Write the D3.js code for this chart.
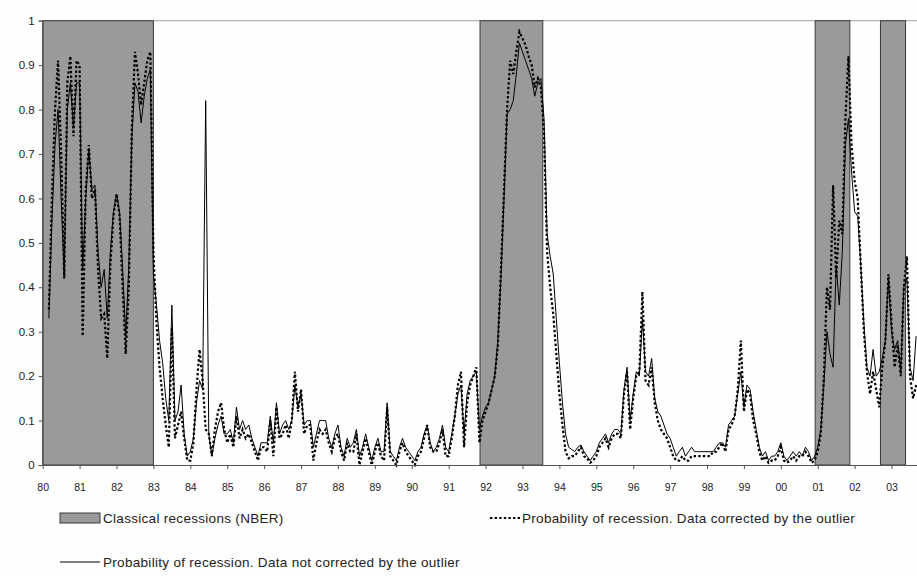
<!DOCTYPE html>
<html><head><meta charset="utf-8">
<script src="https://cdn.jsdelivr.net/npm/d3@7"></script>
<style>
body{margin:0;background:#fff;}
svg{display:block;font-family:"Liberation Sans",Arial,sans-serif;}
</style></head>
<body>
<svg id="c" width="917" height="576"></svg>
<script>
// First month of data: March 1980 (months counted from Jan 1980)
const startMonth = 2;
// Probability of recession, data NOT corrected by the outlier (solid)
const notCorrected = [
 .33,.55,.72,.80,.60,.43,.80,.86,.76,.86,
 .86,.44,.60,.71,.62,.63,.48,.40,.44,.33,.48,.57,
 .61,.57,.44,.29,.45,.74,.86,.84,.77,.83,.87,.89,
 .43,.36,.28,.23,.15,.10,.36,.10,.12,.18,.07,.02,
 .03,.06,.14,.19,.17,.82,.07,.02,.06,.09,.11,.07,
 .07,.08,.05,.13,.08,.10,.08,.09,.06,.04,.02,.05,
 .05,.05,.11,.05,.14,.07,.09,.10,.08,.10,.18,.13,
 .16,.09,.10,.10,.04,.07,.10,.10,.10,.06,.04,.07,
 .09,.04,.02,.06,.04,.05,.08,.02,.04,.07,.04,.01,
 .04,.06,.03,.03,.14,.03,.02,.01,.04,.06,.04,.03,
 .02,.01,.03,.04,.07,.09,.05,.03,.04,.06,.09,.04,
 .03,.07,.11,.16,.18,.07,.16,.19,.20,.21,.08,.11,
 .13,.14,.17,.20,.28,.42,.60,.79,.80,.82,.88,.95,
 .93,.91,.89,.87,.83,.86,.87,.78,.52,.47,.43,.33,
 .23,.14,.07,.04,.035,.03,.04,.045,.03,.02,.01,.02,
 .03,.05,.06,.07,.05,.07,.08,.08,.07,.17,.22,.10,
 .16,.21,.20,.33,.21,.20,.24,.15,.12,.11,.09,.07,
 .06,.04,.02,.03,.04,.02,.03,.04,.03,.03,.03,.03,
 .03,.03,.03,.04,.05,.05,.04,.09,.10,.11,.16,.21,
 .13,.18,.17,.12,.08,.04,.02,.03,.01,.02,.02,.03,
 .05,.02,.01,.02,.03,.02,.03,.02,.04,.03,.01,.02,
 .04,.08,.18,.30,.25,.22,.45,.36,.48,.72,.78,.66,
 .57,.56,.45,.32,.22,.20,.26,.20,.21,.24,.28,.42,
 .30,.26,.28,.21,.40,.42,.22,.19,.29
];
// Probability of recession, data corrected by the outlier (dotted)
const corrected = [
 .35,.60,.80,.91,.70,.42,.86,.92,.74,.91,
 .90,.29,.62,.72,.60,.62,.44,.33,.34,.24,.45,.56,
 .61,.56,.40,.25,.40,.76,.93,.88,.81,.86,.91,.93,
 .48,.32,.22,.15,.09,.04,.31,.06,.09,.12,.06,.01,
 .01,.05,.17,.26,.19,.08,.07,.02,.08,.12,.14,.08,
 .05,.07,.04,.11,.06,.08,.06,.07,.05,.03,.01,.04,
 .04,.03,.10,.02,.13,.06,.07,.09,.06,.10,.21,.12,
 .17,.07,.09,.09,.01,.05,.08,.07,.08,.05,.03,.06,
 .07,.03,.01,.05,.03,.03,.07,.00,.03,.06,.03,.00,
 .03,.05,.02,.01,.13,.02,.01,.00,.03,.05,.03,.02,
 .01,.00,.02,.03,.06,.09,.04,.03,.03,.05,.08,.02,
 .02,.06,.11,.18,.21,.04,.14,.18,.20,.22,.05,.10,
 .12,.14,.17,.20,.27,.44,.62,.80,.91,.88,.93,.975,
 .96,.945,.92,.90,.85,.87,.85,.75,.48,.40,.34,.25,
 .16,.09,.03,.015,.02,.02,.03,.04,.02,.015,.005,.01,
 .02,.04,.05,.06,.04,.06,.07,.07,.06,.16,.21,.08,
 .15,.20,.21,.39,.19,.18,.22,.14,.10,.08,.07,.06,
 .04,.02,.01,.01,.02,.01,.01,.02,.02,.02,.02,.02,
 .02,.02,.03,.03,.04,.05,.03,.08,.09,.11,.17,.28,
 .12,.17,.16,.10,.07,.03,.01,.02,.005,.01,.01,.02,
 .04,.01,.005,.01,.02,.01,.02,.02,.03,.02,.005,.01,
 .03,.07,.20,.40,.35,.63,.42,.55,.52,.78,.92,.72,
 .64,.60,.45,.30,.21,.16,.21,.17,.13,.22,.28,.43,
 .32,.22,.27,.20,.40,.47,.20,.15,.18
];
// Classical recessions (NBER), start/end in decimal years
const recessionStart = [1980.0, 1991.85, 2000.93, 2002.70];
const recessionEnd   = [1983.0, 1993.55, 2001.87, 2003.38];
const yearTicks = d3.range(1980, 2004);
const yTicks = [0,0.1,0.2,0.3,0.4,0.5,0.6,0.7,0.8,0.9,1];
const legendLabels = ["Classical recessions (NBER)",
  "Probability of recession. Data corrected by the outlier",
  "Probability of recession. Data not corrected by the outlier"];

const svg = d3.select("#c");
const L = 42.7, R = 917, T = 20.7, B = 465;
const x = d3.scaleLinear().domain([1980, 2003.69]).range([L, R]);
const y = d3.scaleLinear().domain([0, 1]).range([B, T]);

svg.append("rect").attr("width",917).attr("height",576).attr("fill","#fefefe");

// top border
svg.append("line").attr("x1",L).attr("x2",R).attr("y1",T).attr("y2",T)
  .attr("stroke","#b4b4b4").attr("stroke-width",1.3);

// recession bands
svg.append("g").selectAll("rect").data(recessionStart).join("rect")
  .attr("x",(d)=>x(d)).attr("y",T)
  .attr("width",(d,i)=>x(recessionEnd[i])-x(d)).attr("height",B-T)
  .attr("fill","#9a9a9a").attr("stroke","#3a3a3a").attr("stroke-width",1);

const toPts = arr => arr.map((v,i)=>({t:1980+(startMonth+i)/12, v}));
const line = d3.line().x(d=>x(d.t)).y(d=>y(d.v));

svg.append("path").datum(toPts(notCorrected)).attr("d",line)
  .attr("fill","none").attr("stroke","#000").attr("stroke-width",1)
  .attr("stroke-linejoin","round");
svg.append("path").datum(toPts(corrected)).attr("d",line)
  .attr("fill","none").attr("stroke","#000").attr("stroke-width",2.2)
  .attr("stroke-dasharray","2.4,2.2");

// axes
const yAxis = d3.axisLeft(y).tickValues(yTicks).tickSize(4)
  .tickFormat(d=> d===0 ? "0" : d===1 ? "1" : d3.format(".1f")(d));
const gy = svg.append("g").attr("transform",`translate(${L},0)`).call(yAxis);
gy.select(".domain").attr("stroke","#555");
gy.selectAll(".tick line").attr("stroke","#555");
gy.selectAll(".tick text").attr("font-size",11.5).attr("fill","#222")
  .attr("font-family","Liberation Sans, Arial, sans-serif").attr("x",-8);

const xAxis = d3.axisBottom(x).tickValues(yearTicks).tickSize(4)
  .tickSizeOuter(0)
  .tickFormat(d=> String(d%100).padStart(2,"0"));
const gx = svg.append("g").attr("transform",`translate(0,${B})`).call(xAxis);
gx.select(".domain").attr("stroke","#555");
gx.selectAll(".tick line").attr("stroke","#555");
gx.selectAll(".tick text").attr("font-size",10.5).attr("fill","#222")
  .attr("font-family","Liberation Sans, Arial, sans-serif")
  .attr("y",19).attr("dy","0.71em");

// legend
const lg = svg.append("g").attr("font-size",13.5).attr("fill","#222")
  .attr("letter-spacing",0.3);
lg.append("rect").attr("x",60).attr("y",513).attr("width",40).attr("height",10)
  .attr("fill","#9a9a9a").attr("stroke","#3a3a3a");
lg.append("text").attr("x",103).attr("y",523).text(legendLabels[0]);
lg.append("line").attr("x1",490).attr("x2",520).attr("y1",518).attr("y2",518)
  .attr("stroke","#000").attr("stroke-width",2.2).attr("stroke-dasharray","2.4,2.2");
lg.append("text").attr("x",522).attr("y",523).text(legendLabels[1]);
lg.append("line").attr("x1",60).attr("x2",100).attr("y1",562).attr("y2",562)
  .attr("stroke","#000").attr("stroke-width",1);
lg.append("text").attr("x",103).attr("y",567).text(legendLabels[2]);
</script>
</body></html>
